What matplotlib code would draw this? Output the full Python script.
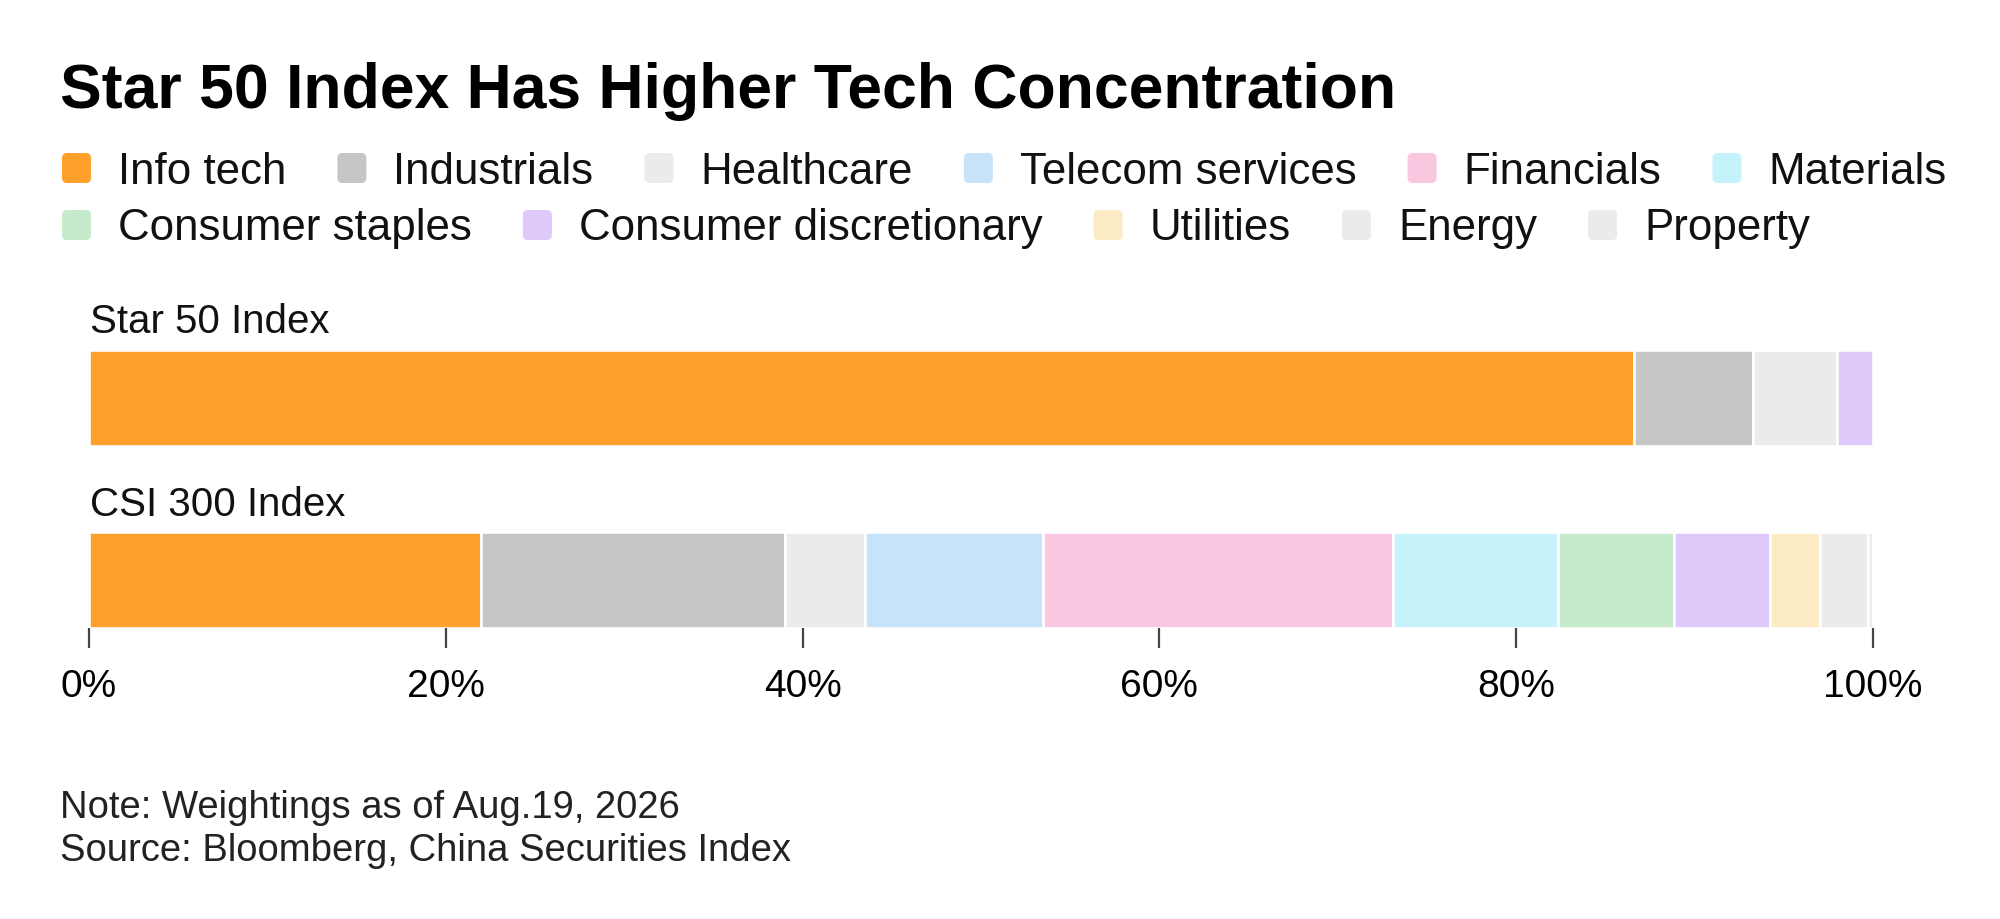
import matplotlib
matplotlib.use("Agg")
import matplotlib.pyplot as plt
from matplotlib.patches import FancyBboxPatch
from matplotlib.transforms import IdentityTransform

# ---------------- data ----------------
categories = ['Info tech', 'Industrials', 'Healthcare', 'Telecom services',
              'Financials', 'Materials', 'Consumer staples',
              'Consumer discretionary', 'Utilities', 'Energy', 'Property']
indices = ['Star 50 Index', 'CSI 300 Index']
star50 = [86.6, 6.7, 4.7, 0.0, 0.0, 0.0, 0.0, 2.0, 0.0, 0.0, 0.0]
csi300 = [22.0, 17.0, 4.5, 10.0, 19.6, 9.25, 6.5, 5.4, 2.8, 2.65, 0.3]
tick_values = [0, 20, 40, 60, 80, 100]
tick_labels = ['0%', '20%', '40%', '60%', '80%', '100%']

title = 'Star 50 Index Has Higher Tech Concentration'
note = 'Note: Weightings as of Aug.19, 2026'
source = 'Source: Bloomberg, China Securities Index'

# ---------------- style ----------------
colors = ['#FEA02B', '#C6C6C6', '#EBEBEB', '#C6E3FA', '#F9C8E0', '#C6F2FA',
          '#C6EBCB', '#DFC8FA', '#FDEBC6', '#EBEBEB', '#EBEBEB']
FONT = ['Liberation Sans', 'DejaVu Sans']
plt.rcParams['font.family'] = FONT
TXT = '#111111'

W, H, DPI = 2000, 920, 100
fig = plt.figure(figsize=(W / DPI, H / DPI), dpi=DPI)
fig.patch.set_facecolor('white')
renderer = fig.canvas.get_renderer()

def fx(px):
    return px / W

def fy(py):
    return 1 - py / H

# title
fig.text(fx(60), fy(108), title, fontsize=45.0, fontweight='bold',
         color='#000000', va='baseline', ha='left')

# legend (manual flow layout, two rows)
rows = [6, 5]              # items per row
row_sq_top = [155, 212]
row_base = [184, 240]
sq = 29
text_off = 56
item_gap = 51
k = 0
for r, n in enumerate(rows):
    x0 = 62
    for _ in range(n):
        patch = FancyBboxPatch((x0, H - row_sq_top[r] - sq), sq, sq + 1,
                               boxstyle='round,pad=0,rounding_size=5',
                               facecolor=colors[k], edgecolor='none',
                               transform=IdentityTransform())
        fig.add_artist(patch)
        t = fig.text(fx(x0 + text_off), fy(row_base[r]), categories[k],
                     fontsize=31.6, color=TXT, va='baseline', ha='left')
        bb = t.get_window_extent(renderer=renderer)
        x0 = bb.x1 + item_gap
        k += 1

# bars axes: x 89..1873 px, y 351..629 px
ax_left, ax_right = 89, 1873
ax_top, ax_bot = 351, 629
ax = fig.add_axes([fx(ax_left), fy(ax_bot), fx(ax_right - ax_left),
                   (ax_bot - ax_top) / H])
bar_h = 96 / 182.5
data = [star50, csi300]
for i, vals in enumerate(data):
    left = 0.0
    for c, v in enumerate(vals):
        if v > 0:
            ax.barh(i, v, left=left, height=bar_h, color=colors[c],
                    edgecolor='white', linewidth=1.9)
        left += v

ax.set_xlim(0, 100)
ax.set_ylim(1 + bar_h / 2, -bar_h / 2)
ax.set_yticks([])
for s in ax.spines.values():
    s.set_visible(False)
ax.set_xticks(tick_values)
ax.set_xticklabels(tick_labels, fontsize=28, color='#000000')
ax.tick_params(axis='x', length=14.5, width=1.6, color='#444444', pad=14)
ax.set_facecolor('none')

# index labels above bars
label_base = [333, 516]
for i, name in enumerate(indices):
    fig.text(fx(90), fy(label_base[i]), name, fontsize=29, color=TXT,
             va='baseline', ha='left')

# footnotes
fig.text(fx(60), fy(818), note, fontsize=27.5, color='#222222',
         va='baseline', ha='left')
fig.text(fx(60), fy(861), source, fontsize=27.5, color='#222222',
         va='baseline', ha='left')

fig.savefig('out.png', dpi=DPI, facecolor='white')
